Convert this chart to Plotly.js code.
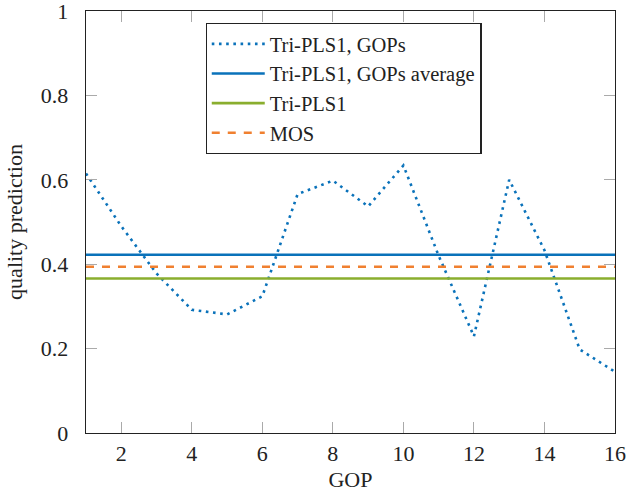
<!DOCTYPE html>
<html>
<head>
<meta charset="utf-8">
<script src="https://cdn.plot.ly/plotly-3.0.1.min.js"></script>
<style>html,body{margin:0;padding:0;background:#fff}#chart{width:628px;height:492px}</style>
</head>
<body>
<div id="chart"></div>
<script>
const gop = [1,2,3,4,5,6,7,8,9,10,11,12,13,14,15,16];
const triPlsGops = [0.615,0.49,0.378,0.292,0.281,0.324,0.566,0.598,0.537,0.634,0.42,0.229,0.600,0.433,0.198,0.145];
const triPlsGopsAverage = 0.4225;
const triPls1 = 0.366;
const mos = 0.394;
const xTicks = [2,4,6,8,10,12,14,16];
const yTicks = [0,0.2,0.4,0.6,0.8,1];
const yTickLabels = ['0','0.2','0.4','0.6','0.8','1'];

const xRange = [gop[0], gop[gop.length-1]];
const flat = v => gop.map(() => v);

const fam = 'Liberation Serif';
const mk = s => ({family:fam, size:s, color:'#222'});

const traces = [
  {x:gop, y:triPlsGops, name:'Tri-PLS1, GOPs', mode:'lines',
   line:{color:'#0a72ba', width:2.6, dash:'2.6px,4.6px'}},
  {x:gop, y:flat(triPlsGopsAverage), name:'Tri-PLS1, GOPs average', mode:'lines',
   line:{color:'#0a72ba', width:2.6}},
  {x:gop, y:flat(triPls1), name:'Tri-PLS1', mode:'lines',
   line:{color:'#8aae2e', width:2.6}},
  {x:gop, y:flat(mos), name:'MOS', mode:'lines',
   line:{color:'#f08030', width:2.6, dash:'8px,8px'}}
];

const layout = {
  width:628, height:492,
  margin:{l:86, r:13, t:11, b:59},
  paper_bgcolor:'#fff', plot_bgcolor:'#fff',
  font:mk(22),
  showlegend:true,
  legend:{x:0.226, y:0.972, xanchor:'left', yanchor:'top',
    bgcolor:'#fff', bordercolor:'#222', borderwidth:1.2, itemwidth:53,
    font:mk(20.5), tracegroupgap:0},
  xaxis:{range:xRange, tickvals:xTicks, ticks:'inside', ticklen:11, tickcolor:'#aaa', tickwidth:1,
    showgrid:false, zeroline:false, showline:true, linecolor:'#222', linewidth:1.4, mirror:'ticks',
    tickfont:mk(22), ticklabeloverflow:'allow',
    title:{text:'GOP', font:mk(22), standoff:14}},
  yaxis:{range:[0,1], tickvals:yTicks, ticktext:yTickLabels, ticks:'inside', ticklen:11, tickcolor:'#aaa', tickwidth:1,
    showgrid:false, zeroline:false, showline:true, linecolor:'#222', linewidth:1.4, mirror:'ticks',
    tickfont:mk(22), ticklabeloverflow:'allow', ticklabelstandoff:12,
    title:{text:'quality prediction', font:mk(22), standoff:12}}
};

Plotly.newPlot('chart', traces, layout, {displayModeBar:false, staticPlot:true});
</script>
</body>
</html>
